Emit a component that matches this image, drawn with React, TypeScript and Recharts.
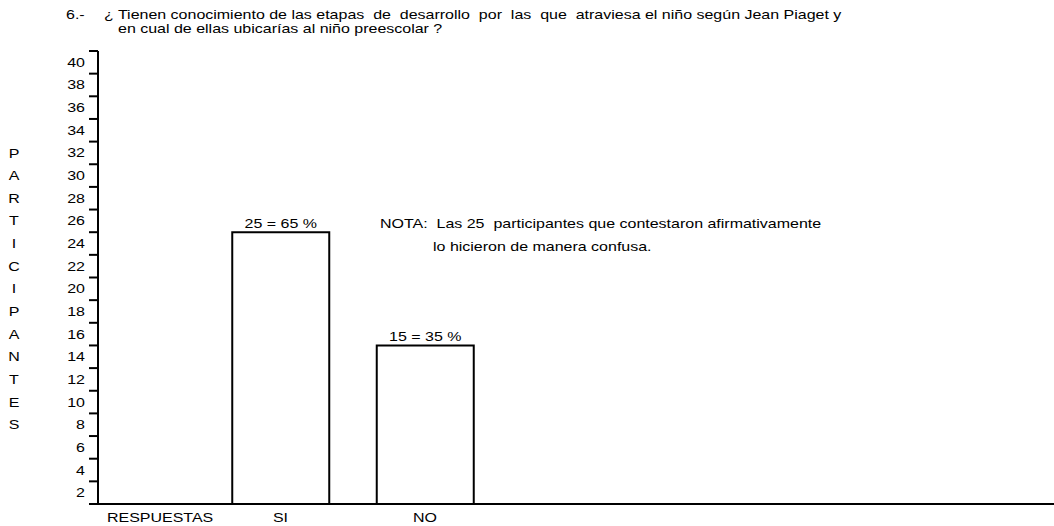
import React from "react"
import { BarChart, Bar, XAxis, YAxis, LabelList } from "recharts"

// valores
const categorias = ["SI", "NO"]
const alturas = [24, 14] // altura dibujada de cada barra
const conteos = [25, 15]
const porcentajes = [65, 35]
const yTicks = [0, 2, 4, 6, 8, 10, 12, 14, 16, 18, 20, 22, 24, 26, 28, 30, 32, 34, 36, 38, 40]
const tituloLinea1 = "¿ Tienen conocimiento de las etapas  de  desarrollo  por  las  que  atraviesa el niño según Jean Piaget y"
const tituloLinea2 = "en cual de ellas ubicarías al niño preescolar ?"
const notaLinea1 = "NOTA:  Las 25  participantes que contestaron afirmativamente"
const notaLinea2 = "lo hicieron de manera confusa."
const ejeY = "PARTICIPANTES"
const ejeX = "RESPUESTAS"

const W = 1054
const H = 526
const TOP = 51
const XH = 22
const FONT = "'Liberation Sans', Arial, sans-serif"
const FS = 13
const SX = 1.23

const data = alturas.map((v, i) => ({ pos: i + 1, nombre: categorias[i], valor: v }))
const halfStep = (H - TOP - XH) / (yTicks.length - 1) / 2

function StretchText({ x, y, anchor = "start", children }: any) {
  return (
    <g transform={`translate(${x},${y}) scale(${SX},1)`}>
      <text x={0} y={0} textAnchor={anchor} fontFamily={FONT} fontSize={FS} fill="#000" style={{ whiteSpace: "pre" }}>
        {children}
      </text>
    </g>
  )
}

const YTick = (props: any) => {
  const { x, y, payload } = props
  if (payload.value === 0) return null
  // la etiqueta va en medio del intervalo, debajo de su marca
  return <StretchText x={x} y={y + halfStep + 4.5} anchor="end">{payload.value}</StretchText>
}

const XTick = (props: any) => {
  const { x, payload } = props
  return <StretchText x={x} y={H - 4} anchor="middle">{categorias[payload.value - 1]}</StretchText>
}

const BarLabel = (props: any) => {
  const { x, y, width, index } = props
  return (
    <StretchText x={x + width / 2} y={y - 4} anchor="middle">
      {`${conteos[index]} = ${porcentajes[index]} %`}
    </StretchText>
  )
}

export default function App() {
  return (
    <div style={{ position: "absolute", left: 0, top: 0, width: W, height: H, background: "#fff" }}>
      <BarChart width={W} height={H} data={data} margin={{ top: TOP, right: 0, bottom: 0, left: 0 }}>
        <XAxis
          dataKey="pos"
          type="number"
          domain={[-0.263, 6.353]}
          ticks={[1, 2]}
          tick={<XTick />}
          tickLine={false}
          axisLine={{ stroke: "#000", strokeWidth: 2 }}
          allowDataOverflow
          height={XH}
        />
        <YAxis
          domain={[0, 40]}
          ticks={yTicks}
          interval={0}
          width={98}
          tickSize={9}
          tickMargin={4}
          tick={<YTick />}
          tickLine={{ stroke: "#000", strokeWidth: 2 }}
          axisLine={{ stroke: "#000", strokeWidth: 2 }}
        />
        <Bar dataKey="valor" barSize={97} fill="#fff" stroke="#000" strokeWidth={2} isAnimationActive={false}>
          <LabelList dataKey="valor" content={<BarLabel />} />
        </Bar>
      </BarChart>
      <svg width={W} height={H} style={{ position: "absolute", left: 0, top: 0, pointerEvents: "none" }}>
        <StretchText x={66} y={19}>6.-</StretchText>
        <StretchText x={104} y={19}>{tituloLinea1}</StretchText>
        <StretchText x={118} y={33}>{tituloLinea2}</StretchText>
        <StretchText x={380} y={228}>{notaLinea1}</StretchText>
        <StretchText x={433} y={251}>{notaLinea2}</StretchText>
        <StretchText x={107} y={H - 4}>{ejeX}</StretchText>
        {ejeY.split("").map((c, i) => (
          <StretchText key={i} x={14} y={157.5 + i * halfStep * 2} anchor="middle">{c}</StretchText>
        ))}
      </svg>
    </div>
  )
}
